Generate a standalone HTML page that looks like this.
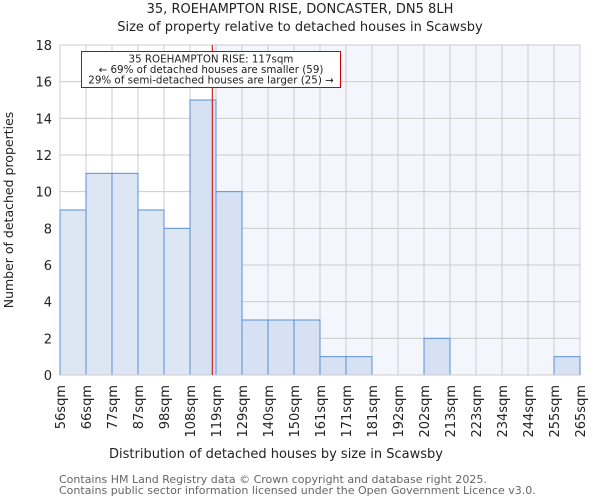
<!DOCTYPE html>
<html><head><meta charset="utf-8"><style>
body{margin:0;background:#fff;font-family:"DejaVu Sans","Liberation Sans",sans-serif}
svg text{font-family:"DejaVu Sans","Liberation Sans",sans-serif}
</style></head><body>
<svg id="c" width="600" height="500" xmlns="http://www.w3.org/2000/svg">
<text x="300" y="13" text-anchor="middle" font-size="13" fill="#222">35, ROEHAMPTON RISE, DONCASTER, DN5 8LH</text>
<text x="300" y="31" text-anchor="middle" font-size="13" fill="#222">Size of property relative to detached houses in Scawsby</text>
<g id="plot"></g>
<text x="276" y="458" text-anchor="middle" font-size="13" fill="#222">Distribution of detached houses by size in Scawsby</text>
<text transform="translate(13,210) rotate(-90)" text-anchor="middle" font-size="12.5" fill="#222">Number of detached properties</text>
<text x="59" y="483" font-size="11" fill="#666">Contains HM Land Registry data © Crown copyright and database right 2025.</text>
<text x="59" y="494" font-size="11" fill="#666">Contains public sector information licensed under the Open Government Licence v3.0.</text>
</svg>
<script>
const binLabels=["56sqm","66sqm","77sqm","87sqm","98sqm","108sqm","119sqm","129sqm","140sqm","150sqm","161sqm","171sqm","181sqm","192sqm","202sqm","213sqm","223sqm","234sqm","244sqm","255sqm","265sqm"];
const counts=[9,11,11,9,8,15,10,3,3,3,1,1,0,0,2,0,0,0,0,1];
const yTicks=[0,2,4,6,8,10,12,14,16,18];
const propertySize=117;
const binEdges=[56,66.5,77,87.5,98,108,118.5,129.5,140,150.5,161,171.5,181,192,202.5,213,223.5,234,244.5,255,265.5];
const X0=60,X1=580,Y0=375,Y1=45,YMAX=18;
const xb=i=>X0+(X1-X0)*i/counts.length;
const y=v=>Y0-(Y0-Y1)*v/YMAX;
function xv(v){for(let i=0;i<binEdges.length-1;i++){if(v<=binEdges[i+1])return xb(i)+(v-binEdges[i])/(binEdges[i+1]-binEdges[i])*(xb(i+1)-xb(i));}return X1;}
const NS="http://www.w3.org/2000/svg",g=document.getElementById('plot');
function mk(t,a){const e=document.createElementNS(NS,t);for(const k in a)e.setAttribute(k,a[k]);g.appendChild(e);return e;}
const lx=xv(propertySize);
const bgR=mk('rect',{x:lx,y:Y1,width:X1-lx,height:Y0-Y1,fill:'#f3f6fc'});


for(let i=0;i<=counts.length;i++){const l=mk('line',{x1:xb(i),x2:xb(i),y1:Y1,y2:Y0,stroke:'#ccc'});}
yTicks.forEach(t=>{const l=mk('line',{x1:X0,x2:X1,y1:y(t),y2:y(t),stroke:'#ccc'});
const tx=mk('text',{x:X0-8,y:y(t)+5,'text-anchor':'end','font-size':13,fill:'#222'});tx.textContent=t;});
counts.forEach((c,i)=>{if(!c)return;const r=mk('rect',{x:xb(i),y:y(c),width:xb(i+1)-xb(i),height:Y0-y(c),fill:xb(i+1)<=lx+1?'#dde6f3':'#d6e2f3',stroke:'#5b8fd6','stroke-width':1});});
const ax=mk('line',{x1:X0,x2:X1,y1:Y0,y2:Y0,stroke:'#ccc'});
binLabels.forEach((s,i)=>{const tx=mk('text',{transform:`translate(${xb(i)+5},${Y0+10}) rotate(-90)`,'text-anchor':'end','font-size':13,fill:'#222'});tx.textContent=s;});
const rl=mk('line',{x1:lx,x2:lx,y1:Y1,y2:Y0,stroke:'#cc0000','stroke-width':1});
const box=mk('rect',{x:81.5,y:51.5,width:259,height:36,fill:'#fff',stroke:'#cc0000'});
["35 ROEHAMPTON RISE: 117sqm","← 69% of detached houses are smaller (59)","29% of semi-detached houses are larger (25) →"].forEach((s,i)=>{const tx=mk('text',{x:211,y:62.5+i*10.5,'text-anchor':'middle','font-size':10.3,fill:'#222'});tx.textContent=s;});
</script>
</body></html>
